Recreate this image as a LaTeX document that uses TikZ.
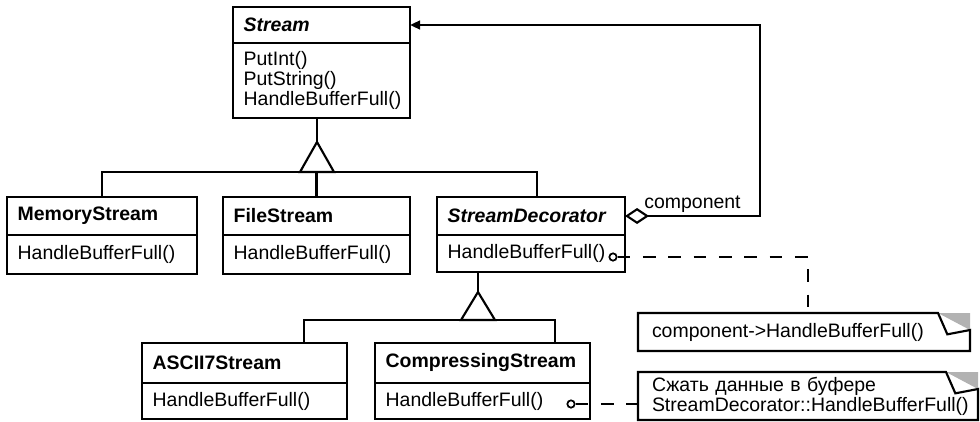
\documentclass[tikz,border=0pt]{standalone}
\usepackage{fontspec}
\setmainfont{Liberation Sans}
\usetikzlibrary{positioning,arrows.meta}
\newcommand{\umlsize}{\fontsize{14.6pt}{15pt}\selectfont}
\tikzset{every picture/.style={line width=1.6pt}}
\tikzset{
  clsname/.style={draw, anchor=north west, outer sep=0pt, inner xsep=8pt, inner ysep=0pt, align=left, font=\umlsize\bfseries},
  clsops/.style={draw, outer sep=0pt, inner xsep=8pt, inner ysep=0pt, align=left, font=\umlsize},
  notebox/.style={anchor=north west, outer sep=0pt, inner xsep=10.5pt, inner ysep=0pt, align=left, font=\umlsize},
  lbl/.style={font=\umlsize, inner sep=1.5pt},
  hookdot/.style={draw, circle, inner sep=0pt, minimum size=5.5pt, line width=1.3pt, fill=white},
  notelink/.style={line width=1.6pt, dash pattern=on 9.5pt off 9.5pt},
  aggr/.style={{Diamond[open,length=18pt,width=12pt]}-{Triangle[length=7.5pt,width=6.5pt]}},
}

\begin{document}
\begin{tikzpicture}[x=0.75pt,y=0.75pt,yscale=-1,xscale=1]
\useasboundingbox (0,0) rectangle (980,421);
% classes
\node[clsname, text width=116.75pt, minimum height=27pt] (stream) at (233,7) {\itshape Stream};
\node[clsops, text width=116.75pt, minimum height=56.25pt, below=0pt of stream] (streamops) {PutInt()\\PutString()\\HandleBufferFull()};
\node[clsname, text width=126.5pt, minimum height=28.5pt] (memory) at (7,197) {MemoryStream};
\node[clsops, text width=126.5pt, minimum height=29.25pt, below=0pt of memory] (memoryops) {HandleBufferFull()};
\node[clsname, text width=124.25pt, minimum height=28.5pt] (file) at (223,197) {FileStream};
\node[clsops, text width=124.25pt, minimum height=29.25pt, below=0pt of file] (fileops) {HandleBufferFull()};
\node[clsname, text width=125pt, minimum height=28.5pt] (deco) at (437,197) {\itshape StreamDecorator};
\node[clsops, text width=125pt, minimum height=27.75pt, below=0pt of deco] (decoops) {HandleBufferFull()};
\node[clsname, text width=137.75pt, minimum height=30pt] (ascii) at (142,343) {ASCII7Stream};
\node[clsops, text width=137.75pt, minimum height=27pt, below=0pt of ascii] (asciiops) {HandleBufferFull()};
\node[clsname, text width=145.25pt, minimum height=30pt] (comp) at (375,343) {CompressingStream};
\node[clsops, text width=145.25pt, minimum height=27pt, below=0pt of comp] (compops) {HandleBufferFull()};
% notes
\node[notebox, text width=228pt, minimum height=28.5pt] (note1) at (638,313) {component->HandleBufferFull()};
\node[notebox, text width=234pt, minimum height=36pt] (note2) at (638,372) {Сжать данные в буфере\\StreamDecorator::HandleBufferFull()};
\foreach \n in {note1,note2}{
  \fill[gray!60] ([xshift=-24pt]\n.north east) -- (\n.north east) -- ([yshift=12.75pt]\n.north east) -- cycle;
  \draw ([xshift=-24pt]\n.north east) -- (\n.north west) -- (\n.south west) -- (\n.south east) -- ([yshift=12.75pt]\n.north east) -- ([xshift=-17pt,yshift=16pt]\n.north east) -- cycle;
}
% inheritance Stream
\coordinate (apex1) at (317,142);
\coordinate (bar1) at (317,172);
\draw (streamops.south -| apex1) -- (apex1);
\draw (apex1) -- ++(-17,30) -- ++(34,0) -- cycle;
\draw (memory.north) -- (memory.north |- bar1) -- ([xshift=4.5pt]deco.north |- bar1) -- ([xshift=4.5pt]deco.north);
\draw (file.north) -- (file.north |- bar1);
% inheritance StreamDecorator
\coordinate (apex2) at (478,292);
\coordinate (asciijoin) at (304,320);
\coordinate (compjoin) at (555,320);
\draw (decoops.south -| apex2) -- (apex2);
\draw (apex2) -- ++(-17,28) -- ++(34,0) -- cycle;
\draw (asciijoin |- ascii.north) -- (asciijoin) -- (compjoin) -- (compjoin |- comp.north);
% component
\coordinate (corner) at (760,25);
\draw[aggr] (deco.east) -- node[lbl, above] (complbl) {component} (deco.east -| corner) -- (corner) -- (stream.east);
% note links
\node[hookdot] (decodot) at (613,257) {};
\node[hookdot] (compdot) at (571,404) {};
\coordinate (bend) at (808,257);
\draw[notelink] (decodot) -- (bend) -- (bend |- note1.north);
\draw[notelink] (compdot) -- (compdot -| note2.west);
\end{tikzpicture}
\end{document}
